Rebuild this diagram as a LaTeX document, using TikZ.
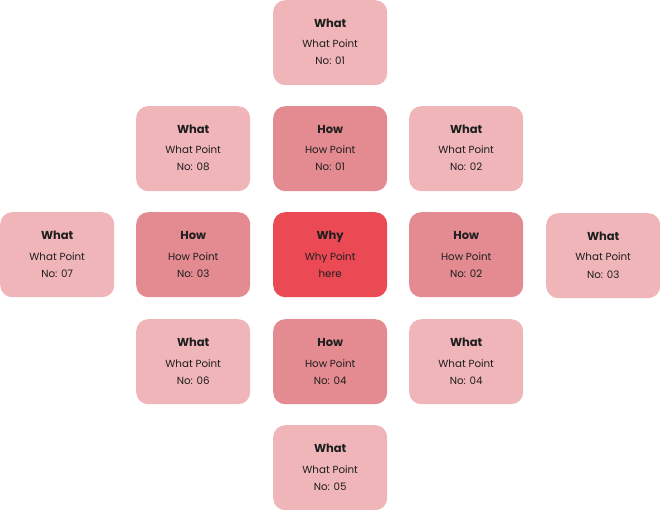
\documentclass[tikz,border=0pt]{standalone}
\usepackage{fontspec}
\setmainfont{Poppins}
\definecolor{lightc}{HTML}{F0B5B9}
\definecolor{midc}{HTML}{E38B90}
\definecolor{strongc}{HTML}{EB4A55}
\definecolor{txtc}{HTML}{1E1E1E}
\tikzset{
  card/.style={draw=none, rounded corners=12pt, minimum width=114pt, minimum height=85pt, inner sep=0pt},
  ttl/.style={font=\fontsize{11.5}{13}\selectfont\bfseries, text=txtc, inner sep=0pt, anchor=base},
  sub/.style={font=\fontsize{10.3}{12}\selectfont, text=txtc, inner sep=0pt, anchor=base},
}
\newcommand\mycard[7]{%
  \node[card, fill=#2, anchor=north west] (#1) at (#3,#4) {};
  \node[ttl] (#1t) at ([yshift=-27.5pt]#1.north) {#5};
  \node[sub] (#1a) at ([yshift=-48pt]#1.north) {#6};
  \node[sub] (#1b) at ([yshift=-65pt]#1.north) {#7};
}
\begin{document}
\begin{tikzpicture}[x=1pt,y=-1pt]
\useasboundingbox (0,0) rectangle (660,510);
\mycard{w1}{lightc}{273}{0}{What}{What Point}{No: 01}
\mycard{w8}{lightc}{136}{106}{What}{What Point}{No: 08}
\mycard{h1}{midc}{273}{106}{How}{How Point}{No: 01}
\mycard{w2}{lightc}{409}{106}{What}{What Point}{No: 02}
\mycard{w7}{lightc}{0}{212}{What}{What Point}{No: 07}
\mycard{h3}{midc}{136}{212}{How}{How Point}{No: 03}
\mycard{why}{strongc}{273}{212}{Why}{Why Point}{here}
\mycard{h2}{midc}{409}{212}{How}{How Point}{No: 02}
\mycard{w3}{lightc}{546}{213}{What}{What Point}{No: 03}
\mycard{w6}{lightc}{136}{319}{What}{What Point}{No: 06}
\mycard{h4}{midc}{273}{319}{How}{How Point}{No: 04}
\mycard{w4}{lightc}{409}{319}{What}{What Point}{No: 04}
\mycard{w5}{lightc}{273}{425}{What}{What Point}{No: 05}
\end{tikzpicture}
\end{document}
